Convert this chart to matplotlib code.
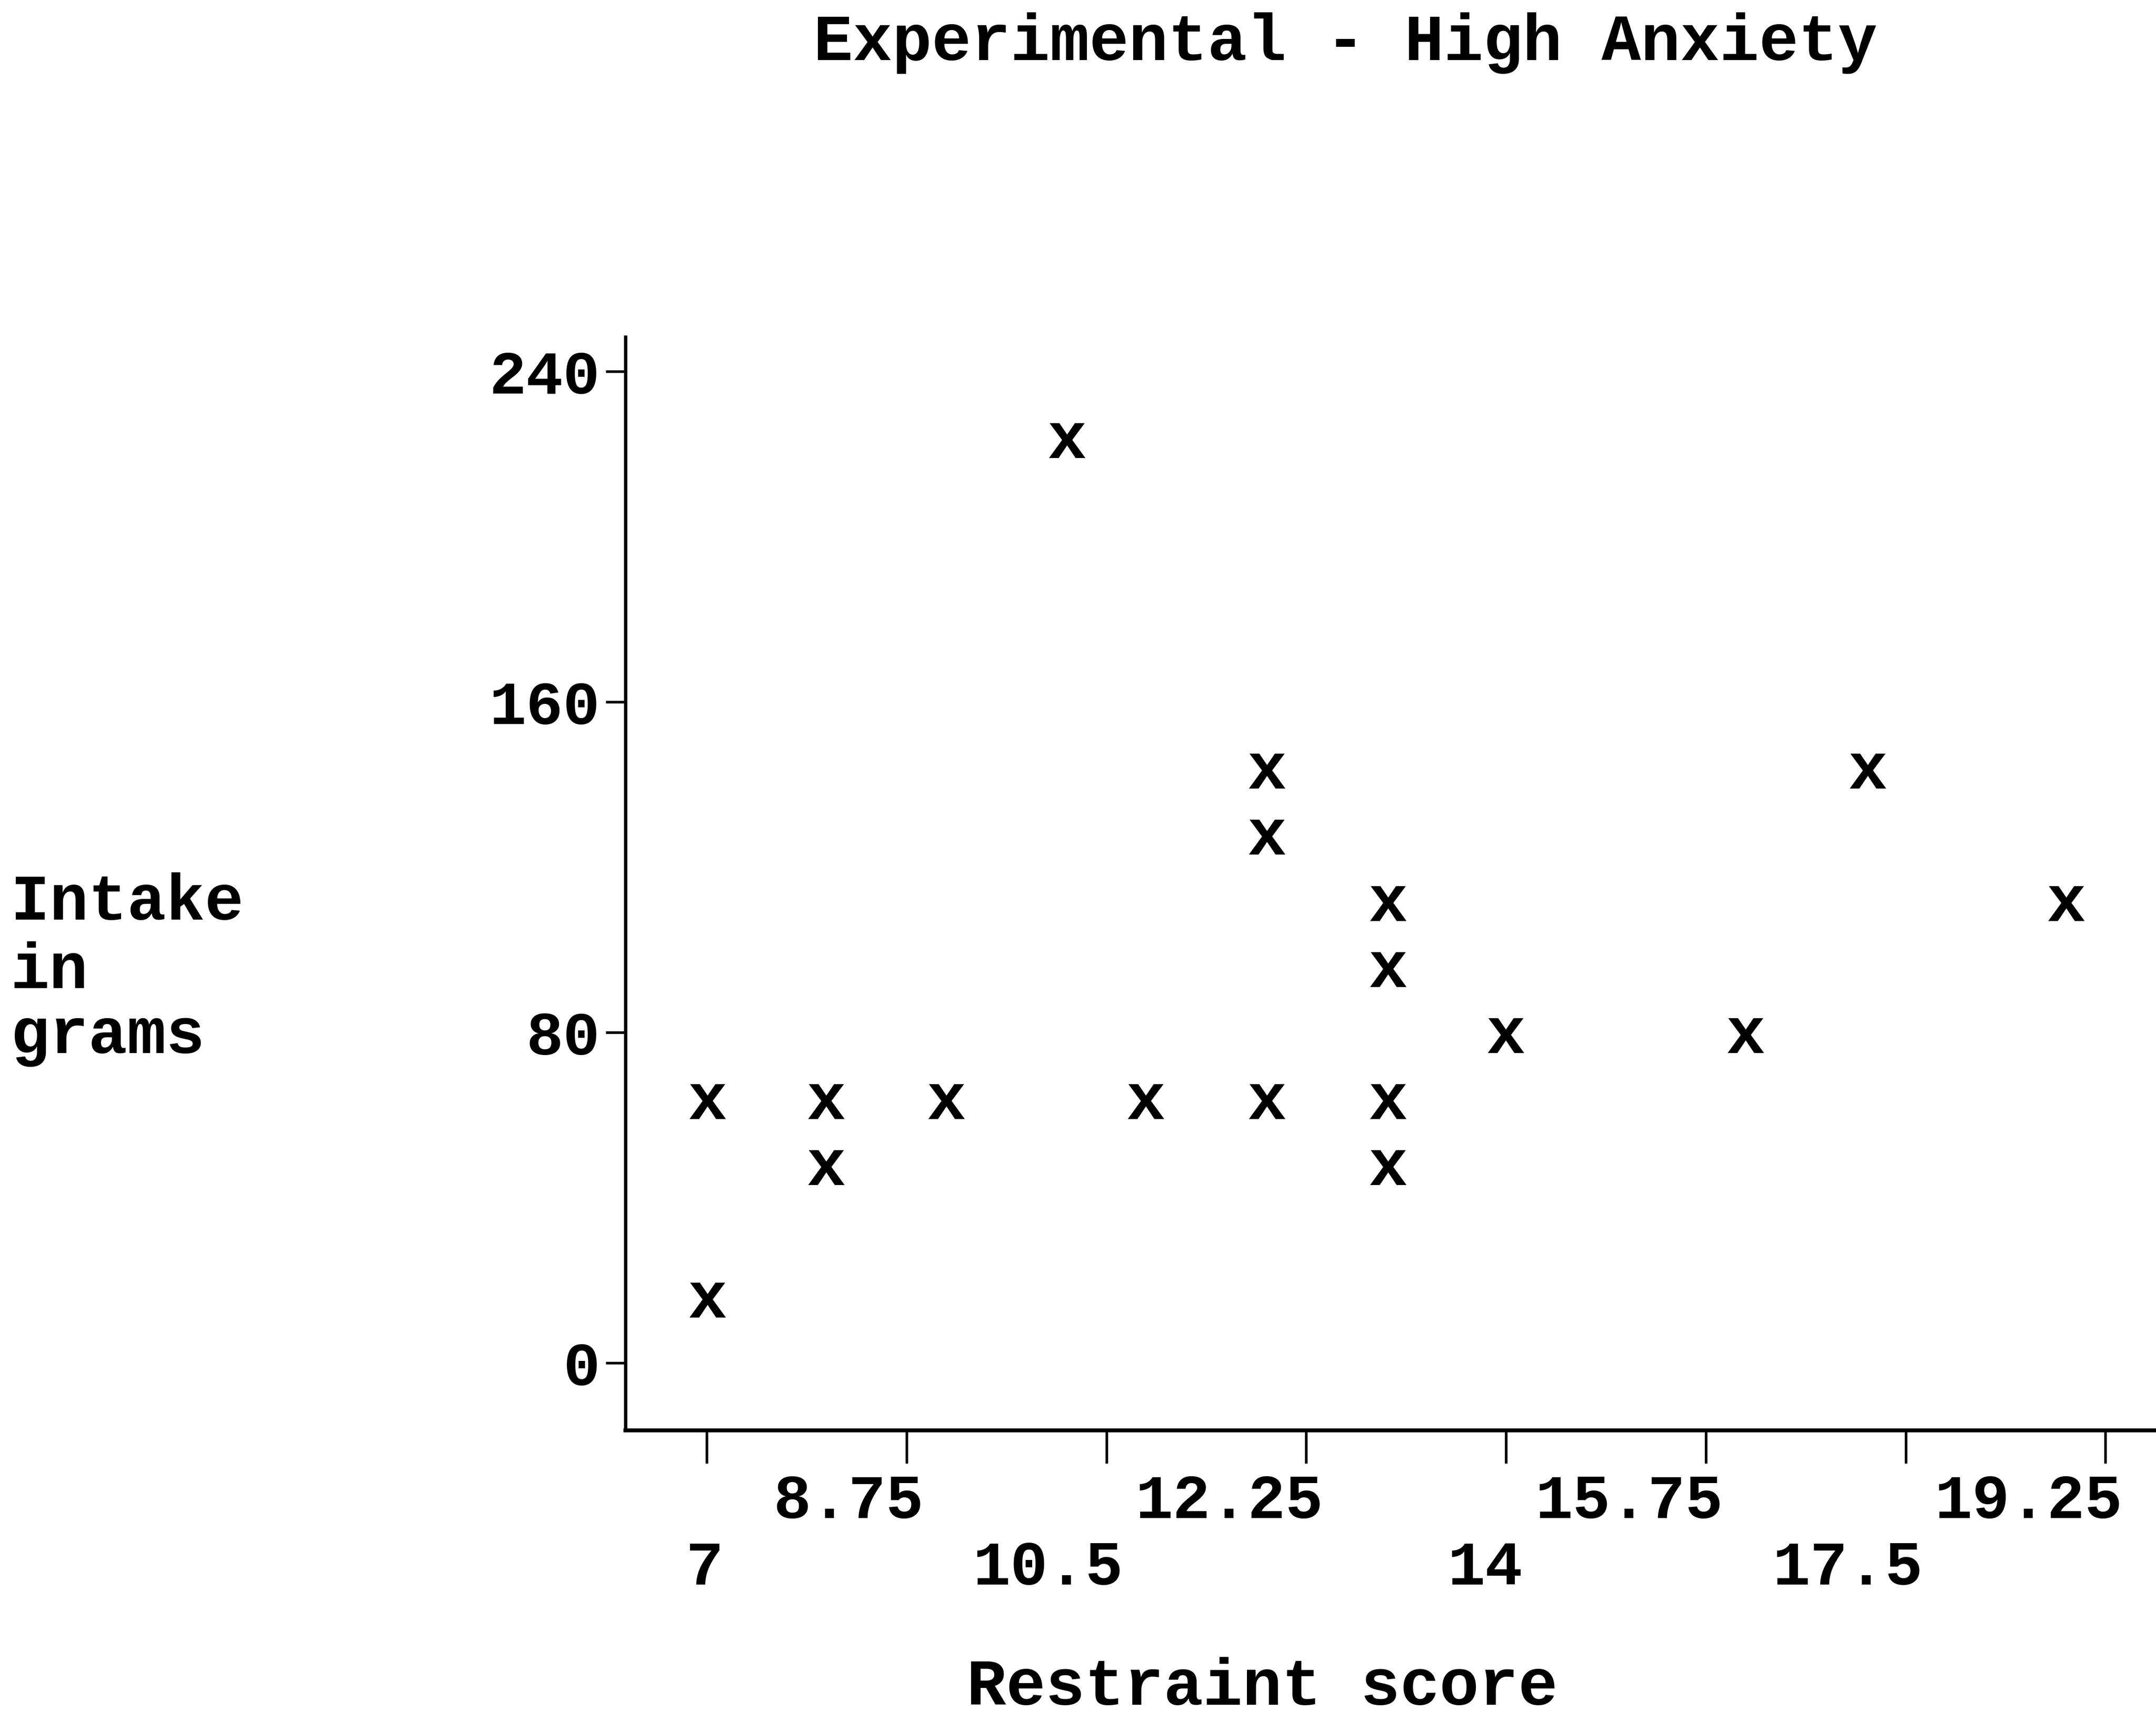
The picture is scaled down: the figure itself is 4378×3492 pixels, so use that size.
import numpy as np
import matplotlib
matplotlib.use("Agg")
import matplotlib.pyplot as plt
from matplotlib.textpath import TextPath
from matplotlib.font_manager import FontProperties
from matplotlib.path import Path
from matplotlib.transforms import ScaledTranslation

# ---- data ----
restraint = [7.0, 7.0, 8.04, 8.04, 9.09, 10.15, 10.84, 11.9, 11.9, 11.9,
             12.96, 12.96, 12.96, 12.96, 13.99, 16.09, 17.16, 18.9]
intake = [63.3, 15.3, 63.3, 47.3, 63.3, 223.3, 63.3, 143.3, 127.3, 63.3,
          111.3, 95.3, 63.3, 47.3, 79.3, 79.3, 143.3, 111.3]
x_ticks_upper = [8.75, 12.25, 15.75, 19.25]
x_ticks_lower = [7, 10.5, 14, 17.5]
x_labels_upper = ["8.75", "12.25", "15.75", "19.25"]
x_labels_lower = ["7", "10.5", "14", "17.5"]
y_ticks = [0, 80, 160, 240]
y_labels = ["0", "80", "160", "240"]
title = "Experimental - High Anxiety"
xlabel = "Restraint score"
ylabel_lines = ["Intake", "in", "grams"]

FONT = "Liberation Mono"
plt.rcParams["font.family"] = [FONT, "DejaVu Sans Mono"]
plt.rcParams["font.weight"] = "bold"

DPI = 300
fig = plt.figure(figsize=(4378 / DPI, 3492 / DPI), dpi=DPI)
fig.patch.set_facecolor("white")

ax = fig.add_axes([0.290, 0.1684, 0.712, 0.6356])
ax.set_xlim(6.287, 19.73)
ax.set_ylim(-16.3, 248.3)

# marker: bold monospace letter "x"
fp = FontProperties(family=FONT, weight="bold")
tp = TextPath((0, 0), "x", prop=fp, size=1)
v = tp.vertices.copy()
cx = (v[:, 0].min() + v[:, 0].max()) / 2
cy = (v[:, 1].min() + v[:, 1].max()) / 2
v[:, 0] -= cx
v[:, 1] -= cy
xmarker = Path(v, tp.codes)
ax.scatter(restraint, intake, marker=xmarker, s=18.5 ** 2, c="black",
           linewidths=0, zorder=3)

for side in ["top", "right"]:
    ax.spines[side].set_visible(False)
ax.spines["left"].set_linewidth(1.6)
ax.spines["bottom"].set_linewidth(1.9)

# y ticks
ax.set_yticks(y_ticks)
ax.set_yticklabels(y_labels, fontsize=30, fontweight="bold")
ax.tick_params(axis="y", direction="out", length=9.6, width=1.3, pad=2.6)

# x ticks: two staggered rows
ax.set_xticks(x_ticks_upper)
ax.set_xticklabels(x_labels_upper, fontsize=30.5, fontweight="bold")
ax.set_xticks(x_ticks_lower, minor=True)
ax.set_xticklabels(x_labels_lower, minor=True, fontsize=30.5, fontweight="bold")
ax.tick_params(axis="x", which="both", direction="out", length=16, width=1.3)
ax.tick_params(axis="x", which="major", pad=4.8)
ax.tick_params(axis="x", which="minor", pad=37.2)

# labels end so the last character sits over the tick
shift = ScaledTranslation(0.27 * 30.5 / 72, 0, fig.dpi_scale_trans)
for lbl in ax.get_xticklabels(which="both"):
    lbl.set_ha("right")
    lbl.set_transform(lbl.get_transform() + shift)

fig.text(0.624, 0.965, title, ha="center", va="baseline", fontsize=32,
         fontweight="bold")
fig.text(0.5855, 0.009, xlabel, ha="center", va="baseline", fontsize=32,
         fontweight="bold")
for line, yb in zip(ylabel_lines, [0.4653, 0.4255, 0.3877]):
    fig.text(0.005, yb, line, ha="left", va="baseline", fontsize=31.5,
             fontweight="bold")

fig.savefig("out.png", dpi=DPI, facecolor="white")
